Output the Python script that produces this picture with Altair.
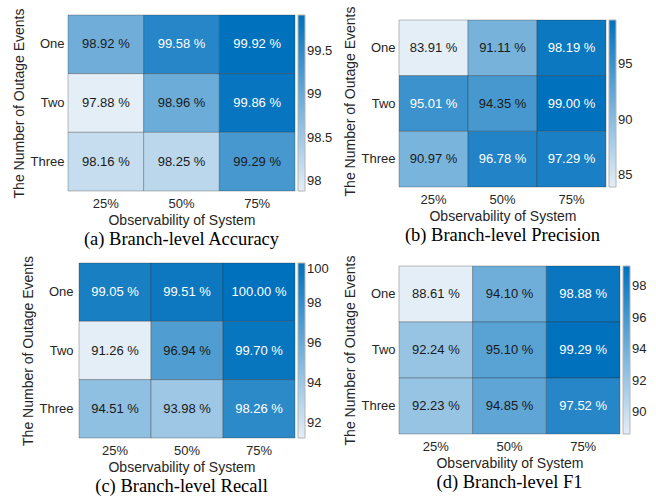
import altair as alt
import pandas as pd

# Axis categories
observability = ["25%", "50%", "75%"]
outages = ["One", "Two", "Three"]

# Branch-level metrics (%), rows = number of outage events, cols = observability
accuracy = [[98.92, 99.58, 99.92],
            [97.88, 98.96, 99.86],
            [98.16, 98.25, 99.29]]
precision = [[83.91, 91.11, 98.19],
             [95.01, 94.35, 99.00],
             [90.97, 96.78, 97.29]]
recall = [[99.05, 99.51, 100.00],
          [91.26, 96.94, 99.70],
          [94.51, 93.98, 98.26]]
f1 = [[88.61, 94.10, 98.88],
      [92.24, 95.10, 99.29],
      [92.23, 94.85, 97.52]]

# Colorbar tick values
accuracy_ticks = [98, 98.5, 99, 99.5]
precision_ticks = [85, 90, 95]
recall_ticks = [92, 94, 96, 98, 100]
f1_ticks = [90, 92, 94, 96, 98]

panel_titles = ["(a) Branch-level Accuracy", "(b) Branch-level Precision",
                "(c) Branch-level Recall", "(d) Branch-level F1"]

SANS = "Liberation Sans"
SERIF = "Liberation Serif"
INK = "#262626"
LIGHT = "#e4eef7"
DARK = "#0071bd"


def heatmap(values, ticks, title, grid_w, grid_h, frame_w=None, frame_h=None,
            y_axis_offset=0, legend_y=None):
    """One annotated heatmap; the cell grid may sit at the right/bottom of a
    larger frame so that panels line up like a hand-made figure."""
    frame_w = frame_w or grid_w
    frame_h = frame_h or grid_h
    rows = []
    for i, out in enumerate(outages):
        for j, obs in enumerate(observability):
            rows.append({"obs": obs, "out": out, "value": values[i][j]})
    df = pd.DataFrame(rows)
    lo, hi = df["value"].min(), df["value"].max()
    df["label"] = df["value"].map(lambda v: f"{v:.2f} %")
    df["shade"] = (df["value"] - lo) / (hi - lo)

    # outer band padding (in steps) that leaves the grid at its own size
    pad_x = (frame_w / (grid_w / 3) - 3) / 2
    pad_y = (frame_h / (grid_h / 3) - 3) / 2

    x = alt.X("obs:N", sort=observability, title="Observability of System",
              scale=alt.Scale(paddingInner=0, paddingOuter=pad_x, align=1),
              axis=alt.Axis(labelAngle=0, ticks=False, domain=False,
                            labelPadding=6, titlePadding=3))
    y = alt.Y("out:N", sort=outages, title="The Number of Outage Events",
              scale=alt.Scale(paddingInner=0, paddingOuter=pad_y, align=1),
              axis=alt.Axis(ticks=False, domain=False, offset=y_axis_offset,
                            labelPadding=4, titlePadding=4))

    legend_kw = dict(values=ticks, gradientLength=grid_h, title=None, format=".4~g")
    if legend_y is not None:
        legend_kw.update(orient="none", legendX=frame_w + 3, legendY=legend_y)

    cells = alt.Chart(df).mark_rect(
        stroke="#2b2b2b", strokeOpacity=0.3, strokeWidth=1
    ).encode(
        x=x, y=y,
        color=alt.Color("value:Q",
                        scale=alt.Scale(domain=[lo, hi], range=[LIGHT, DARK],
                                        interpolate="rgb", nice=False, zero=False),
                        legend=alt.Legend(**legend_kw)),
    )
    labels = alt.Chart(df).mark_text(font=SANS, fontSize=13).encode(
        x=x, y=y, text="label:N",
        color=alt.condition("datum.shade > 0.7", alt.value("#ffffff"),
                            alt.value("#1a1a1a")),
    )
    return alt.layer(cells, labels).properties(
        width=frame_w, height=frame_h,
        title=alt.TitleParams(title, orient="bottom", font=SERIF, fontSize=18.5,
                              fontWeight="normal", color="#000000", offset=3,
                              anchor="middle", frame="group"),
    )


pa = heatmap(accuracy, accuracy_ticks, panel_titles[0], 227, 176)
pb = heatmap(precision, precision_ticks, panel_titles[1], 207, 167,
             frame_h=172, legend_y=5)
pc = heatmap(recall, recall_ticks, panel_titles[2], 216, 175,
             frame_w=227, y_axis_offset=-9)
pd_ = heatmap(f1, f1_ticks, panel_titles[3], 221, 168)

chart = alt.concat(
    pa, pb, pc, pd_, columns=2, align="none", bounds="full",
    spacing={"row": 6, "column": 10},
).resolve_scale(
    color="independent"
).properties(
    padding={"left": 12, "top": 6, "right": 0, "bottom": 0},
    background="white",
).configure_view(
    stroke=None
).configure_axis(
    labelFont=SANS, labelFontSize=13, labelColor=INK,
    titleFont=SANS, titleFontSize=14, titleColor=INK, titleFontWeight="normal",
    grid=False,
).configure_legend(
    orient="right", offset=3, padding=0,
    gradientThickness=7, gradientStrokeColor="#b4b4b4", gradientStrokeWidth=1,
    labelFont=SANS, labelFontSize=13, labelColor=INK, labelOffset=6,
    labelOverlap=False,
)

chart.save("out.html", embed_options={"renderer": "svg", "actions": False})
